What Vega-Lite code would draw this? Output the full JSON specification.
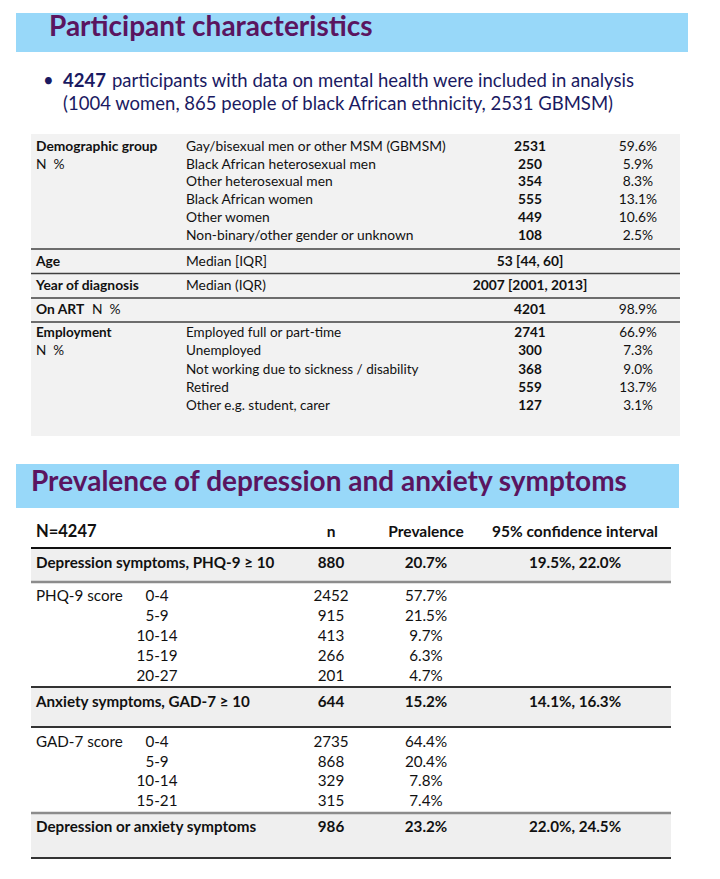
{
  "$schema": "https://vega.github.io/schema/vega-lite/v6.json",
  "width": 720,
  "height": 879,
  "padding": 0,
  "autosize": {"type": "fit", "contains": "padding"},
  "background": "white",
  "config": {"view": {"stroke": null}, "text": {"font": "Lato"}},
  "datasets": {
    "rects": [
      {"kind": "band", "c": 1, "c2": 19, "r": 0.6, "r2": 1.4},
      {"kind": "panel", "c": 2, "c2": 18, "r": 3.5, "r2": 17.5},
      {"kind": "band", "c": 1, "c2": 17, "r": 17.6, "r2": 18.4},
      {"kind": "highlight", "c": 2, "c2": 16, "r": 19.5, "r2": 20.5},
      {"kind": "highlight", "c": 2, "c2": 16, "r": 25.5, "r2": 26.5},
      {"kind": "highlight", "c": 2, "c2": 16, "r": 30.5, "r2": 31.5}
    ],
    "rules": [
      {"kind": "t1", "c": 2, "c2": 18, "r": 9.5},
      {"kind": "t1", "c": 2, "c2": 18, "r": 10.5},
      {"kind": "t1", "c": 2, "c2": 18, "r": 11.5},
      {"kind": "t1", "c": 2, "c2": 18, "r": 12.5},
      {"kind": "black", "c": 2, "c2": 16, "r": 19.5},
      {"kind": "grey", "c": 2, "c2": 16, "r": 20.5},
      {"kind": "dark", "c": 2, "c2": 16, "r": 25.5},
      {"kind": "dark", "c": 2, "c2": 16, "r": 26.5},
      {"kind": "grey", "c": 2, "c2": 16, "r": 30.5},
      {"kind": "dark", "c": 2, "c2": 16, "r": 31.5}
    ],
    "texts": [
      {"sec": "title", "kind": "label", "emph": true, "r": 1, "c": 5, "t": "Participant characteristics"},
      {"sec": "lead", "kind": "label", "emph": false, "r": 2, "c": 4, "t": "•"},
      {"sec": "lead", "kind": "label", "emph": true, "r": 2, "c": 6, "t": "4247"},
      {"sec": "lead", "kind": "label", "emph": false, "r": 2, "c": 8, "t": "participants with data on mental health were included in analysis"},
      {"sec": "lead", "kind": "label", "emph": false, "r": 3, "c": 6, "t": "(1004 women, 865 people of black African ethnicity, 2531 GBMSM)"},

      {"sec": "t1", "kind": "label", "emph": true, "r": 4, "c": 3, "t": "Demographic group"},
      {"sec": "t1", "kind": "label", "emph": false, "r": 4, "c": 10, "t": "Gay/bisexual men or other MSM (GBMSM)"},
      {"sec": "t1", "kind": "value", "emph": true, "r": 4, "c": 13, "t": "2531"},
      {"sec": "t1", "kind": "value", "emph": false, "r": 4, "c": 15, "t": "59.6%"},
      {"sec": "t1", "kind": "label", "emph": false, "r": 5, "c": 3, "t": "N\u00a0\u00a0%"},
      {"sec": "t1", "kind": "label", "emph": false, "r": 5, "c": 10, "t": "Black African heterosexual men"},
      {"sec": "t1", "kind": "value", "emph": true, "r": 5, "c": 13, "t": "250"},
      {"sec": "t1", "kind": "value", "emph": false, "r": 5, "c": 15, "t": "5.9%"},
      {"sec": "t1", "kind": "label", "emph": false, "r": 6, "c": 10, "t": "Other heterosexual men"},
      {"sec": "t1", "kind": "value", "emph": true, "r": 6, "c": 13, "t": "354"},
      {"sec": "t1", "kind": "value", "emph": false, "r": 6, "c": 15, "t": "8.3%"},
      {"sec": "t1", "kind": "label", "emph": false, "r": 7, "c": 10, "t": "Black African women"},
      {"sec": "t1", "kind": "value", "emph": true, "r": 7, "c": 13, "t": "555"},
      {"sec": "t1", "kind": "value", "emph": false, "r": 7, "c": 15, "t": "13.1%"},
      {"sec": "t1", "kind": "label", "emph": false, "r": 8, "c": 10, "t": "Other women"},
      {"sec": "t1", "kind": "value", "emph": true, "r": 8, "c": 13, "t": "449"},
      {"sec": "t1", "kind": "value", "emph": false, "r": 8, "c": 15, "t": "10.6%"},
      {"sec": "t1", "kind": "label", "emph": false, "r": 9, "c": 10, "t": "Non-binary/other gender or unknown"},
      {"sec": "t1", "kind": "value", "emph": true, "r": 9, "c": 13, "t": "108"},
      {"sec": "t1", "kind": "value", "emph": false, "r": 9, "c": 15, "t": "2.5%"},
      {"sec": "t1", "kind": "label", "emph": true, "r": 10, "c": 3, "t": "Age"},
      {"sec": "t1", "kind": "label", "emph": false, "r": 10, "c": 10, "t": "Median [IQR]"},
      {"sec": "t1", "kind": "value", "emph": true, "r": 10, "c": 13, "t": "53 [44, 60]"},
      {"sec": "t1", "kind": "label", "emph": true, "r": 11, "c": 3, "t": "Year of diagnosis"},
      {"sec": "t1", "kind": "label", "emph": false, "r": 11, "c": 10, "t": "Median (IQR)"},
      {"sec": "t1", "kind": "value", "emph": true, "r": 11, "c": 13, "t": "2007 [2001, 2013]"},
      {"sec": "t1", "kind": "label", "emph": true, "r": 12, "c": 3, "t": "On ART"},
      {"sec": "t1", "kind": "label", "emph": false, "r": 12, "c": 7, "t": "N\u00a0\u00a0%"},
      {"sec": "t1", "kind": "value", "emph": true, "r": 12, "c": 13, "t": "4201"},
      {"sec": "t1", "kind": "value", "emph": false, "r": 12, "c": 15, "t": "98.9%"},
      {"sec": "t1e", "kind": "label", "emph": true, "r": 13, "c": 3, "t": "Employment"},
      {"sec": "t1e", "kind": "label", "emph": false, "r": 13, "c": 10, "t": "Employed full or part-time"},
      {"sec": "t1e", "kind": "value", "emph": true, "r": 13, "c": 13, "t": "2741"},
      {"sec": "t1e", "kind": "value", "emph": false, "r": 13, "c": 15, "t": "66.9%"},
      {"sec": "t1e", "kind": "label", "emph": false, "r": 14, "c": 3, "t": "N\u00a0\u00a0%"},
      {"sec": "t1e", "kind": "label", "emph": false, "r": 14, "c": 10, "t": "Unemployed"},
      {"sec": "t1e", "kind": "value", "emph": true, "r": 14, "c": 13, "t": "300"},
      {"sec": "t1e", "kind": "value", "emph": false, "r": 14, "c": 15, "t": "7.3%"},
      {"sec": "t1e", "kind": "label", "emph": false, "r": 15, "c": 10, "t": "Not working due to sickness / disability"},
      {"sec": "t1e", "kind": "value", "emph": true, "r": 15, "c": 13, "t": "368"},
      {"sec": "t1e", "kind": "value", "emph": false, "r": 15, "c": 15, "t": "9.0%"},
      {"sec": "t1e", "kind": "label", "emph": false, "r": 16, "c": 10, "t": "Retired"},
      {"sec": "t1e", "kind": "value", "emph": true, "r": 16, "c": 13, "t": "559"},
      {"sec": "t1e", "kind": "value", "emph": false, "r": 16, "c": 15, "t": "13.7%"},
      {"sec": "t1e", "kind": "label", "emph": false, "r": 17, "c": 10, "t": "Other e.g. student, carer"},
      {"sec": "t1e", "kind": "value", "emph": true, "r": 17, "c": 13, "t": "127"},
      {"sec": "t1e", "kind": "value", "emph": false, "r": 17, "c": 15, "t": "3.1%"},

      {"sec": "title", "kind": "label", "emph": true, "r": 18, "c": 2, "t": "Prevalence of depression and anxiety symptoms"},

      {"sec": "t2n", "kind": "label", "emph": true, "r": 19, "c": 3, "t": "N=4247"},
      {"sec": "t2h", "kind": "value", "emph": true, "r": 19, "c": 11, "t": "n"},
      {"sec": "t2h", "kind": "value", "emph": true, "r": 19, "c": 12, "t": "Prevalence"},
      {"sec": "t2h", "kind": "value", "emph": true, "r": 19, "c": 14, "t": "95% confidence interval"},
      {"sec": "t2", "kind": "label", "emph": true, "r": 20, "c": 3, "t": "Depression symptoms, PHQ-9 ≥ 10"},
      {"sec": "t2", "kind": "value", "emph": true, "r": 20, "c": 11, "t": "880"},
      {"sec": "t2", "kind": "value", "emph": true, "r": 20, "c": 12, "t": "20.7%"},
      {"sec": "t2", "kind": "value", "emph": true, "r": 20, "c": 14, "t": "19.5%, 22.0%"},
      {"sec": "t2", "kind": "label", "emph": false, "r": 21, "c": 3, "t": "PHQ-9 score"},
      {"sec": "t2", "kind": "value", "emph": false, "r": 21, "c": 9, "t": "0-4"},
      {"sec": "t2", "kind": "value", "emph": false, "r": 21, "c": 11, "t": "2452"},
      {"sec": "t2", "kind": "value", "emph": false, "r": 21, "c": 12, "t": "57.7%"},
      {"sec": "t2", "kind": "value", "emph": false, "r": 22, "c": 9, "t": "5-9"},
      {"sec": "t2", "kind": "value", "emph": false, "r": 22, "c": 11, "t": "915"},
      {"sec": "t2", "kind": "value", "emph": false, "r": 22, "c": 12, "t": "21.5%"},
      {"sec": "t2", "kind": "value", "emph": false, "r": 23, "c": 9, "t": "10-14"},
      {"sec": "t2", "kind": "value", "emph": false, "r": 23, "c": 11, "t": "413"},
      {"sec": "t2", "kind": "value", "emph": false, "r": 23, "c": 12, "t": "9.7%"},
      {"sec": "t2", "kind": "value", "emph": false, "r": 24, "c": 9, "t": "15-19"},
      {"sec": "t2", "kind": "value", "emph": false, "r": 24, "c": 11, "t": "266"},
      {"sec": "t2", "kind": "value", "emph": false, "r": 24, "c": 12, "t": "6.3%"},
      {"sec": "t2", "kind": "value", "emph": false, "r": 25, "c": 9, "t": "20-27"},
      {"sec": "t2", "kind": "value", "emph": false, "r": 25, "c": 11, "t": "201"},
      {"sec": "t2", "kind": "value", "emph": false, "r": 25, "c": 12, "t": "4.7%"},
      {"sec": "t2", "kind": "label", "emph": true, "r": 26, "c": 3, "t": "Anxiety symptoms, GAD-7 ≥ 10"},
      {"sec": "t2", "kind": "value", "emph": true, "r": 26, "c": 11, "t": "644"},
      {"sec": "t2", "kind": "value", "emph": true, "r": 26, "c": 12, "t": "15.2%"},
      {"sec": "t2", "kind": "value", "emph": true, "r": 26, "c": 14, "t": "14.1%, 16.3%"},
      {"sec": "t2", "kind": "label", "emph": false, "r": 27, "c": 3, "t": "GAD-7 score"},
      {"sec": "t2", "kind": "value", "emph": false, "r": 27, "c": 9, "t": "0-4"},
      {"sec": "t2", "kind": "value", "emph": false, "r": 27, "c": 11, "t": "2735"},
      {"sec": "t2", "kind": "value", "emph": false, "r": 27, "c": 12, "t": "64.4%"},
      {"sec": "t2", "kind": "value", "emph": false, "r": 28, "c": 9, "t": "5-9"},
      {"sec": "t2", "kind": "value", "emph": false, "r": 28, "c": 11, "t": "868"},
      {"sec": "t2", "kind": "value", "emph": false, "r": 28, "c": 12, "t": "20.4%"},
      {"sec": "t2", "kind": "value", "emph": false, "r": 29, "c": 9, "t": "10-14"},
      {"sec": "t2", "kind": "value", "emph": false, "r": 29, "c": 11, "t": "329"},
      {"sec": "t2", "kind": "value", "emph": false, "r": 29, "c": 12, "t": "7.8%"},
      {"sec": "t2", "kind": "value", "emph": false, "r": 30, "c": 9, "t": "15-21"},
      {"sec": "t2", "kind": "value", "emph": false, "r": 30, "c": 11, "t": "315"},
      {"sec": "t2", "kind": "value", "emph": false, "r": 30, "c": 12, "t": "7.4%"},
      {"sec": "t2", "kind": "label", "emph": true, "r": 31, "c": 3, "t": "Depression or anxiety symptoms"},
      {"sec": "t2", "kind": "value", "emph": true, "r": 31, "c": 11, "t": "986"},
      {"sec": "t2", "kind": "value", "emph": true, "r": 31, "c": 12, "t": "23.2%"},
      {"sec": "t2", "kind": "value", "emph": true, "r": 31, "c": 14, "t": "22.0%, 24.5%"}
    ]
  },
  "encoding": {
    "x": {
      "field": "c", "type": "quantitative", "axis": null,
      "scale": {
        "nice": false, "zero": false,
        "domain": [0, 1, 2, 3, 4, 5, 6, 7, 8, 9, 10, 11, 12, 13, 14, 15, 16, 17, 18, 19, 20],
        "range": [0, 16, 31, 36, 43, 49, 63, 92, 112, 157, 186, 331, 426, 530, 575, 638, 671, 679, 680, 688, 720]
      }
    },
    "y": {
      "field": "r", "type": "quantitative", "axis": null,
      "scale": {
        "nice": false, "zero": false,
        "domain": [0, 0.6, 1, 1.4, 2, 3, 3.5, 4, 9, 9.5, 10, 10.5, 11, 11.5, 12, 12.5, 13, 17, 17.5, 17.6, 18, 18.4, 19, 19.5, 20, 20.5, 21, 25, 25.5, 26, 26.5, 27, 30, 30.5, 31, 31.5, 32],
        "range": [0, 13, 28, 52, 81, 104, 134, 147, 235.5, 249, 262, 273.5, 286, 298, 310, 322, 333, 406, 436, 464, 483, 508, 532, 548, 563, 582, 596, 675.5, 687, 702, 727, 742, 801, 813, 827, 858, 879]
      }
    }
  },
  "resolve": {"scale": {"color": "independent", "size": "independent"}},
  "layer": [
    {
      "data": {"name": "rects"},
      "mark": {"type": "rect"},
      "encoding": {
        "x2": {"field": "c2"},
        "y2": {"field": "r2"},
        "color": {
          "field": "kind", "type": "nominal", "legend": null,
          "scale": {"domain": ["band", "panel", "highlight"], "range": ["#98D8F9", "#F2F2F2", "#EFEFEF"]}
        }
      }
    },
    {
      "data": {"name": "rules"},
      "mark": {"type": "rule"},
      "encoding": {
        "x2": {"field": "c2"},
        "color": {
          "field": "kind", "type": "nominal", "legend": null,
          "scale": {"domain": ["t1", "black", "grey", "dark"], "range": ["#404040", "#111111", "#8C8C8C", "#333333"]}
        },
        "size": {
          "field": "kind", "type": "nominal", "legend": null,
          "scale": {"type": "ordinal", "domain": ["t1", "black", "grey", "dark"], "range": [1.5, 2, 2.5, 1.8]}
        }
      }
    },
    {
      "data": {"name": "texts"},
      "transform": [{"filter": "datum.sec == 'title'"}],
      "mark": {"type": "text", "align": "left", "baseline": "middle", "fontWeight": "bold", "fontSize": 28, "color": "#5A1560"},
      "encoding": {"text": {"field": "t"}}
    },
    {
      "data": {"name": "texts"},
      "transform": [{"filter": "datum.sec == 'lead' && datum.emph"}],
      "mark": {"type": "text", "align": "left", "baseline": "middle", "fontWeight": "bold", "fontSize": 18.5, "color": "#1A1A62"},
      "encoding": {"text": {"field": "t"}}
    },
    {
      "data": {"name": "texts"},
      "transform": [{"filter": "datum.sec == 'lead' && !datum.emph"}],
      "mark": {"type": "text", "align": "left", "baseline": "middle", "fontSize": 18.5, "color": "#1A1A62"},
      "encoding": {"text": {"field": "t"}}
    },
    {
      "data": {"name": "texts"},
      "transform": [{"filter": "datum.sec != 'title' && datum.sec != 'lead' && datum.emph && datum.kind == 'label'"}],
      "mark": {"type": "text", "align": "left", "baseline": "middle", "fontWeight": "bold", "color": "#111111"},
      "encoding": {
        "text": {"field": "t"},
        "size": {"field": "sec", "type": "nominal", "legend": null,
          "scale": {"type": "ordinal", "domain": ["t1", "t1e", "t2h", "t2n", "t2"], "range": [13.8, 13.5, 15.5, 16.5, 15.2]}}
      }
    },
    {
      "data": {"name": "texts"},
      "transform": [{"filter": "datum.sec != 'title' && datum.sec != 'lead' && !datum.emph && datum.kind == 'label'"}],
      "mark": {"type": "text", "align": "left", "baseline": "middle", "color": "#111111"},
      "encoding": {
        "text": {"field": "t"},
        "size": {"field": "sec", "type": "nominal", "legend": null,
          "scale": {"type": "ordinal", "domain": ["t1", "t1e", "t2h", "t2n", "t2"], "range": [13.8, 13.5, 15.5, 16.5, 15.2]}}
      }
    },
    {
      "data": {"name": "texts"},
      "transform": [{"filter": "datum.sec != 'title' && datum.sec != 'lead' && datum.emph && datum.kind == 'value'"}],
      "mark": {"type": "text", "align": "center", "baseline": "middle", "fontWeight": "bold", "color": "#111111"},
      "encoding": {
        "text": {"field": "t"},
        "size": {"field": "sec", "type": "nominal", "legend": null,
          "scale": {"type": "ordinal", "domain": ["t1", "t1e", "t2h", "t2n", "t2"], "range": [13.8, 13.5, 15.5, 16.5, 15.2]}}
      }
    },
    {
      "data": {"name": "texts"},
      "transform": [{"filter": "datum.sec != 'title' && datum.sec != 'lead' && !datum.emph && datum.kind == 'value'"}],
      "mark": {"type": "text", "align": "center", "baseline": "middle", "color": "#111111"},
      "encoding": {
        "text": {"field": "t"},
        "size": {"field": "sec", "type": "nominal", "legend": null,
          "scale": {"type": "ordinal", "domain": ["t1", "t1e", "t2h", "t2n", "t2"], "range": [13.8, 13.5, 15.5, 16.5, 15.2]}}
      }
    }
  ]
}
